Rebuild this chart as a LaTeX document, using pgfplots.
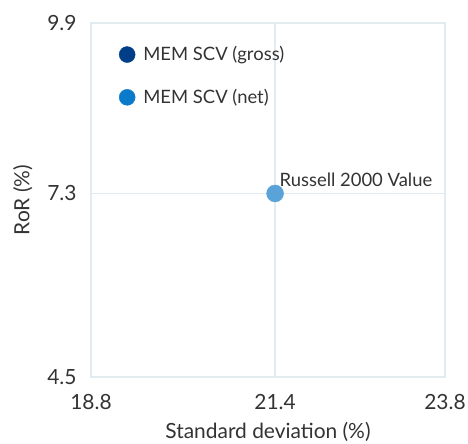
\documentclass[border=0pt]{standalone}
\usepackage{pgfplots}
\pgfplotsset{compat=1.18}
\usepackage{fontspec}
\setmainfont{Lato}
\definecolor{gross}{HTML}{003F87}
\definecolor{net}{HTML}{0A7ACB}
\definecolor{russ}{HTML}{5AA3D8}
\definecolor{gridc}{HTML}{E2EBEF}
\definecolor{txt}{HTML}{333333}
\begin{document}
\begin{tikzpicture}[x=1bp,y=1bp]
\useasboundingbox (-91bp,-67bp) rectangle (377bp,377bp);
\begin{axis}[
  at={(0,0)}, anchor=south west,
  scale only axis, width=354bp, height=354bp,
  xmin=18.8, xmax=23.8, ymin=4.5, ymax=9.9,
  xtick={18.8,21.4,23.8}, ytick={4.5,7.3,9.9},
  xticklabels={18.8,21.4,23.8}, yticklabels={4.5,7.3,9.9},
  major tick length=0pt,
  grid=major,
  grid style={gridc, line width=1.2bp},
  axis line style={gridc, line width=1.2bp},
  tick label style={font=\fontsize{21}{24}\selectfont, text=txt},
  xticklabel style={yshift=-14bp},
  yticklabel style={xshift=-11bp},
  xlabel={Standard deviation (\%)},
  ylabel={RoR (\%)},
  label style={font=\fontsize{21}{24}\selectfont, text=txt},
  xlabel style={yshift=-6bp},
  ylabel style={yshift=8bp},
  legend style={at={(0.07,0.945)}, anchor=north west, draw=none, fill=none,
    font=\fontsize{18.5}{22}\selectfont, text=txt, row sep=23bp,
    cells={anchor=west}},
  legend cell align=left,
  legend image code/.code={\filldraw[#1] (0.3cm,0cm) circle (8bp);},
]
\addlegendimage{fill=gross, draw=gross}
\addlegendentry{\hspace{6bp}MEM SCV (gross)}
\addlegendimage{fill=net, draw=net}
\addlegendentry{\hspace{6bp}MEM SCV (net)}
\addplot[only marks, mark=*, mark size=8.5bp, mark options={fill=russ, draw=russ},
  forget plot,
  nodes near coords={Russell 2000 Value},
  nodes near coords style={anchor=south west, xshift=1bp, yshift=3bp,
    font=\fontsize{18.5}{22}\selectfont, text=txt}]
  coordinates {(21.4,7.3)};
\end{axis}
\end{tikzpicture}
\end{document}
